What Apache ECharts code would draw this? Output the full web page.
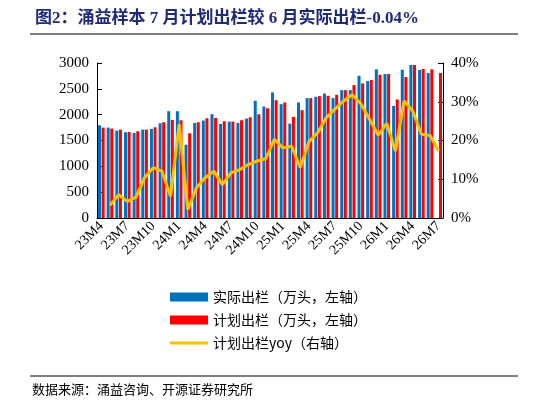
<!DOCTYPE html>
<html><head><meta charset="utf-8">
<script src="https://cdn.jsdelivr.net/npm/echarts@6/dist/echarts.min.js"></script>
<style>body{margin:0}#c{width:546px;height:408px}</style></head>
<body><div id="c"></div>
<script>
var months = [];
(function(){var y=23,m=4;for(var i=0;i<40;i++){months.push(y+'M'+m);m++;if(m>12){m=1;y++;}}})();
var actual = [1795,1750,1691,1659,1646,1711,1724,1834,2067,2067,1419,1840,1886,2009,1821,1866,1840,1924,2268,2158,
  2430,2203,1827,2236,2320,2346,2410,2320,2475,2475,2754,2650,2877,2786,2171,2870,2961,2864,2806,null];
var plan = [1750,1730,1711,1665,1678,1711,1756,1853,1899,1892,1640,1853,1931,1937,1873,1866,1892,1950,2009,2125,
  2281,2236,1957,2087,2320,2359,2365,2385,2475,2573,2605,2670,2773,2786,2294,2728,2961,2884,2877,2806];
var yoy = [null,3.3,6.0,4.3,5.4,10.4,13.0,12.1,5.6,24.2,2.2,7.8,10.4,12.1,8.6,11.7,12.5,13.8,14.7,15.3,
  20.3,18.1,18.5,13.0,19.7,22.0,25.9,28.1,30.2,31.8,29.5,25.5,21.4,24.4,17.3,30.2,27.6,21.6,21.3,17.3];
var font = 'Liberation Serif';
var chart = echarts.init(document.getElementById('c'));
chart.setOption({
  animation:false,
  textStyle:{fontFamily:font},
  title:{text:'图2：涌益样本 7 月计划出栏较 6 月实际出栏-0.04%',left:30,top:5,
    textStyle:{fontSize:17,fontWeight:'bold',color:'#1F2A7A',fontFamily:'Liberation Serif, Noto Sans CJK SC'}},
  graphic:[
    {type:'line',shape:{x1:30,y1:34,x2:518,y2:34},style:{stroke:'#000',lineWidth:1}},
    {type:'line',shape:{x1:30,y1:376,x2:518,y2:376},style:{stroke:'#000',lineWidth:1}},
    {type:'text',left:32,top:383,style:{text:'数据来源：涌益咨询、开源证券研究所',fontSize:13,fill:'#000',fontFamily:'Noto Sans CJK SC'}}
  ],
  legend:{orient:'vertical',left:165,top:285,itemGap:9,itemWidth:38,itemHeight:9,
    textStyle:{fontSize:14,color:'#000',fontFamily:'Noto Sans CJK SC'},
    data:[{name:'实际出栏（万头，左轴）',icon:'rect'},{name:'计划出栏（万头，左轴）',icon:'rect'},
      {name:'计划出栏yoy（右轴）',icon:'path://M0,0L40,0L40,3L0,3Z'}]},
  grid:{left:97,right:103,top:63,bottom:190},
  xAxis:{type:'category',data:months,
    axisLine:{lineStyle:{color:'#000'}},axisTick:{interval:2,alignWithLabel:true,lineStyle:{color:'#000'}},
    axisLabel:{interval:2,rotate:45,fontSize:14,color:'#000',margin:6}},
  yAxis:[
    {type:'value',min:0,max:3000,interval:500,splitLine:{show:false},
     axisLine:{show:true,lineStyle:{color:'#000'}},axisTick:{show:true,inside:true},
     axisLabel:{fontSize:15,color:'#000',formatter:function(v){return String(v);}}},
    {type:'value',min:0,max:40,interval:10,splitLine:{show:false},
     axisLine:{show:true,lineStyle:{color:'#000'}},axisTick:{show:true,inside:true},
     axisLabel:{fontSize:15,color:'#000',formatter:'{value}%'}}
  ],
  series:[
    {name:'实际出栏（万头，左轴）',type:'bar',data:actual,barWidth:3,barGap:'20%',itemStyle:{color:'#0070C0'}},
    {name:'计划出栏（万头，左轴）',type:'bar',data:plan,barWidth:3,itemStyle:{color:'#FF0000'}},
    {name:'计划出栏yoy（右轴）',type:'line',yAxisIndex:1,data:yoy,symbol:'none',
     lineStyle:{color:'#FFC000',width:3},itemStyle:{color:'#FFC000'}}
  ]
});
</script></body></html>
